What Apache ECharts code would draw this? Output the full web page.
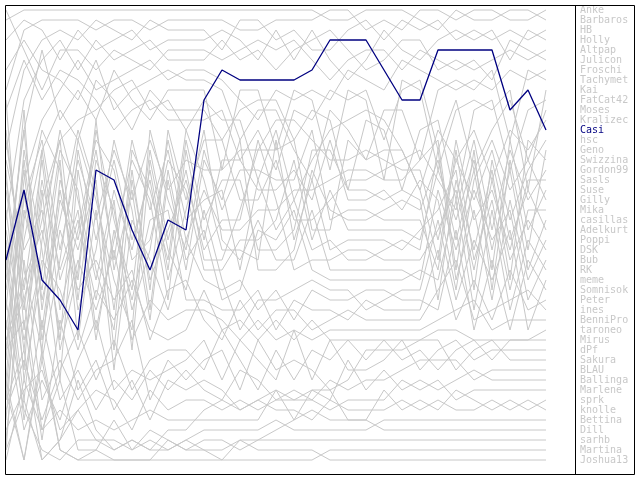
<!DOCTYPE html>
<html>
<head>
<meta charset="utf-8">
<script src="https://cdn.jsdelivr.net/npm/echarts@6/dist/echarts.min.js"></script>
<style>
  html, body { margin: 0; padding: 0; background: #fff; }
  #chart { width: 640px; height: 480px; }
</style>
</head>
<body>
<div id="chart"></div>
<script>
// rounds on the x axis
const rounds = ['1','2','3','4','5','6','7','8','9','10','11','12','13','14','15','16',
    '17','18','19','20','21','22','23','24','25','26','27','28','29','30','31'];

// players in final order (legend order)
const players = ['Anke','Barbaros','HB','Holly','Altpap','Julicon','Froschi','Tachymet','Kai',
    'FatCat42','Moses','Kralizec','Casi','hsc','Geno','Swizzina','Gordon99','Sasls','Suse',
    'Gilly','Mika','casillas','Adelkurt','Poppi','DSK','Bub','RK','meme','Somnisok','Peter',
    'ines','BenniPro','taroneo','Mirus','dPf','Sakura','BLAU','Ballinga','Marlene','sprk',
    'knolle','Bettina','Dill','sarhb','Martina','Joshua13'];

const highlight = 'Casi';

// rank per round, one array per player
const anke     = [9,3,2,2,2,3,2,2,3,2,2, 2,2,3,3,2,2,2,1,1,3, 2,3,1,1,2,1,1,2,2,1];
const barbaros = [2,1,1,1,1,1,1,1,1,1,1, 1,1,1,1,1,1,1,2,2,1, 1,1,2,3,1,2,2,1,1,2];
const hb       = [15,7,4,3,4,2,3,4,2,3,3, 3,5,2,2,4,3,5,5,3,2, 4,2,3,2,4,3,4,3,4,3];
const holly    = [4,2,3,6,3,5,4,3,5,4,4, 4,3,4,6,3,6,3,6,8,6, 3,5,6,4,3,4,3,6,3,4];
const altpap   = [22,10,6,4,7,4,6,5,4,6,6, 6,4,6,5,7,5,4,3,5,7, 6,4,4,7,6,7,6,5,6,5];
const julicon  = [1,5,9,5,5,7,5,6,7,5,5, 5,6,5,4,5,4,6,8,6,5, 5,7,5,6,7,6,8,4,5,6];
const froschi  = [35,18,12,9,6,9,8,7,6,8,7, 7,8,10,12,9,10,9,10,7,8, 9,6,7,8,9,8,9,7,8,7];
const tachymet = [7,4,7,8,10,6,11,9,8,7,8, 8,9,14,11,11,15,18,11,13,16, 11,11,16,9,8,9,7,14,7,8];
const kai      = [28,13,5,12,9,12,7,10,12,9,9, 9,17,9,9,15,9,10,17,9,10, 18,8,9,17,11,10,11,9,19,9];
const fatcat42 = [40,24,15,11,14,8,10,13,9,11,11, 11,14,11,10,10,14,11,12,19,12, 13,19,13,12,20,11,10,17,11,10];
const moses    = [11,6,10,7,8,10,13,11,10,12,12, 12,11,16,13,17,11,12,9,10,9, 14,9,8,15,10,17,13,10,16,11];
const kralizec = [18,30,22,14,12,11,9,8,11,10,13, 10,12,12,18,13,20,16,13,12,11, 12,15,19,13,16,13,18,13,15,12];
const casi     = [26,19,28,30,33,17,18,23,27,22,23, 10,7,8,8,8,8,7,4,4,4, 7,10,10,5,5,5,5,11,9,13];
const hsc      = [33,20,14,25,16,22,15,20,14,19,16, 17,17,15,15,12,12,14,16,16,15, 16,17,17,24,16,20,15,22,17,14];
const geno     = [14,27,35,18,24,15,26,14,21,15,24, 19,23,23,21,21,19,19,18,17,17, 18,18,16,14,27,15,29,16,25,15];
const swizzina = [25,40,24,13,20,28,19,25,17,27,14, 22,18,18,25,25,23,15,15,19,19, 20,19,20,30,18,25,17,28,14,16];
const gordon99 = [38,16,30,22,13,19,31,17,29,13,20, 14,14,20,20,16,22,22,20,18,18, 17,16,15,18,21,14,23,15,20,17];
const sasls    = [10,33,19,35,27,13,22,29,15,24,17, 26,26,21,15,15,14,23,23,14,16, 15,15,19,26,14,22,19,25,18,18];
const suse     = [45,22,13,17,31,25,14,21,32,18,27, 16,20,14,27,27,25,17,21,22,22, 21,20,21,16,24,17,27,14,23,19];
const gilly    = [17,38,27,15,19,33,24,16,20,30,15, 24,16,16,19,19,17,20,14,20,20, 19,21,18,20,29,18,14,19,16,20];
const mika     = [31,11,36,26,14,20,28,33,13,20,25, 15,21,17,17,18,18,13,22,21,21, 22,22,22,27,15,26,20,29,21,21];
const casillas = [13,29,16,31,23,14,17,26,24,16,19, 27,27,24,24,22,16,24,19,23,23, 23,23,24,17,22,16,25,17,27,22];
const adelkurt = [36,15,25,38,17,27,33,15,19,26,13, 18,25,25,26,14,24,18,25,24,24, 24,25,23,21,17,29,16,24,19,23];
const poppi    = [21,35,20,14,30,16,21,31,25,14,22, 20,19,27,18,23,20,25,24,26,26, 25,24,25,15,28,21,30,20,28,24];
const dsk      = [42,19,33,20,25,18,35,18,28,23,18, 25,22,22,14,20,27,26,26,25,25, 26,26,26,23,19,27,18,26,22,25];
const bub      = [16,25,21,34,15,24,16,24,18,28,21, 13,24,26,22,26,26,21,27,27,27, 27,27,28,19,25,19,24,21,30,26];
const rk       = [27,13,31,19,28,12,27,19,31,17,26, 23,30,29,23,24,21,27,28,28,28, 28,28,27,28,20,31,21,31,24,27];
const meme     = [24,37,15,28,22,30,20,35,16,25,29, 21,28,33,30,30,29,28,29,29,31, 30,29,29,22,30,24,28,23,33,28];
const somnisok = [39,21,29,16,34,21,37,22,26,31,24, 28,29,28,31,29,32,29,30,30,29, 29,30,30,31,23,33,26,33,26,29];
const peter    = [19,31,18,27,21,34,23,30,22,21,30, 30,31,31,29,33,30,31,31,32,30, 31,31,31,25,32,28,32,27,31,30];
const ines     = [29,17,34,23,29,26,30,27,34,29,28, 32,34,30,33,31,31,33,32,31,32, 32,32,32,29,26,32,31,30,29,31];
const bennipro = [34,28,23,33,26,31,25,34,30,32,31, 31,32,34,32,34,33,34,33,33,33, 33,33,33,32,31,30,33,32,32,32];
const taroneo  = [23,34,26,29,35,29,32,28,33,34,33, 29,33,32,34,32,34,32,34,34,34, 34,34,34,33,33,34,34,34,34,33];
const mirus    = [41,36,42,37,33,38,34,39,36,35,35, 37,33,36,39,35,38,35,36,34,36, 34,36,35,37,35,34,36,34,34,34];
const dpf      = [32,43,38,42,36,32,39,37,38,37,36, 34,38,34,36,38,33,38,34,37,37, 36,34,37,35,34,36,35,35,35,35];
const sakura   = [44,26,40,36,40,37,36,32,40,36,38, 36,35,39,34,37,36,37,39,38,35, 35,35,34,34,37,35,34,36,36,36];
const blau     = [26,42,32,40,37,41,38,40,37,39,37, 39,40,37,38,40,39,40,38,39,38, 38,37,36,36,36,38,37,37,37,37];
const ballinga = [35,32,44,32,39,36,41,38,42,38,39, 38,39,41,40,39,40,39,40,36,39, 37,39,38,39,38,37,38,38,38,38];
const marlene  = [43,39,37,43,41,39,40,43,39,41,40, 40,41,40,41,40,40,40,41,40,40, 40,38,39,38,40,39,39,39,39,39];
const sprk     = [46,38,43,41,43,42,43,42,41,42,42, 42,42,42,42,39,42,41,42,42,42, 39,41,40,41,39,40,41,40,41,40];
const knolle   = [40,35,46,44,38,43,45,44,45,43,43, 41,40,41,40,41,41,42,40,41,41, 41,40,41,40,41,41,40,41,40,41];
const bettina  = [30,41,45,46,44,44,44,45,44,45,44, 43,43,43,43,42,43,43,43,43,43, 42,42,42,42,42,42,42,42,42,42];
const dill     = [38,46,35,45,46,45,46,46,46,44,45, 45,46,44,44,43,42,39,39,42,42, 43,43,43,43,43,43,43,43,43,43];
const sarhb    = [34,30,43,38,45,45,42,45,43,44,45, 44,44,45,44,44,44,44,44,44,44, 44,44,44,44,44,44,44,44,44,44];
const martina  = [39,46,36,45,46,46,46,46,46,46,46, 46,46,46,46,46,46,46,45,45,45, 45,45,45,45,45,45,45,45,45,45];
const joshua13 = [45,40,46,44,41,44,45,44,45,45,44, 45,45,44,45,45,45,45,46,46,46, 46,46,46,46,46,46,46,46,46,46];

const rankRows = [anke, barbaros, hb, holly, altpap, julicon, froschi, tachymet, kai,
    fatcat42, moses, kralizec, casi, hsc, geno, swizzina, gordon99, sasls, suse,
    gilly, mika, casillas, adelkurt, poppi, dsk, bub, rk, meme, somnisok, peter,
    ines, bennipro, taroneo, mirus, dpf, sakura, blau, ballinga, marlene, sprk,
    knolle, bettina, dill, sarhb, martina, joshua13];

const GREY = '#c8c8c8';
const BLUE = '#000080';
const FONT = '"DejaVu Sans Mono", "Liberation Mono", monospace';

const chart = echarts.init(document.getElementById('chart'), null, { renderer: 'canvas' });

const series = players.map((name, k) => ({
    type: 'line',
    name: name,
    data: rankRows[k],
    symbol: 'none',
    silent: true,
    z: name === highlight ? 5 : 2,
    lineStyle: {
        color: name === highlight ? BLUE : GREY,
        width: name === highlight ? 1.3 : 1
    }
}));

// legend drawn as plain texts, one row per rank
const legendTexts = players.map((name, k) => ({
    type: 'text',
    left: 580,
    top: 10 * (k + 1) - 5,
    style: {
        text: name,
        fill: name === highlight ? BLUE : GREY,
        font: '10px ' + FONT
    }
}));

chart.setOption({
    animation: false,
    backgroundColor: '#fff',
    grid: { left: 6, top: 5, width: 540, height: 470 },
    xAxis: {
        type: 'category',
        data: rounds,
        boundaryGap: false,
        show: false
    },
    yAxis: {
        type: 'value',
        min: 0.5,
        max: 47.5,
        inverse: true,
        show: false
    },
    series: series,
    graphic: [
        {
            type: 'rect',
            shape: { x: 5.5, y: 5.5, width: 629, height: 469 },
            style: { fill: 'none', stroke: '#000', lineWidth: 1 },
            z: 10
        },
        {
            type: 'line',
            shape: { x1: 575.5, y1: 5.5, x2: 575.5, y2: 474.5 },
            style: { stroke: '#000', lineWidth: 1 },
            z: 10
        }
    ].concat(legendTexts)
});
</script>
</body>
</html>
